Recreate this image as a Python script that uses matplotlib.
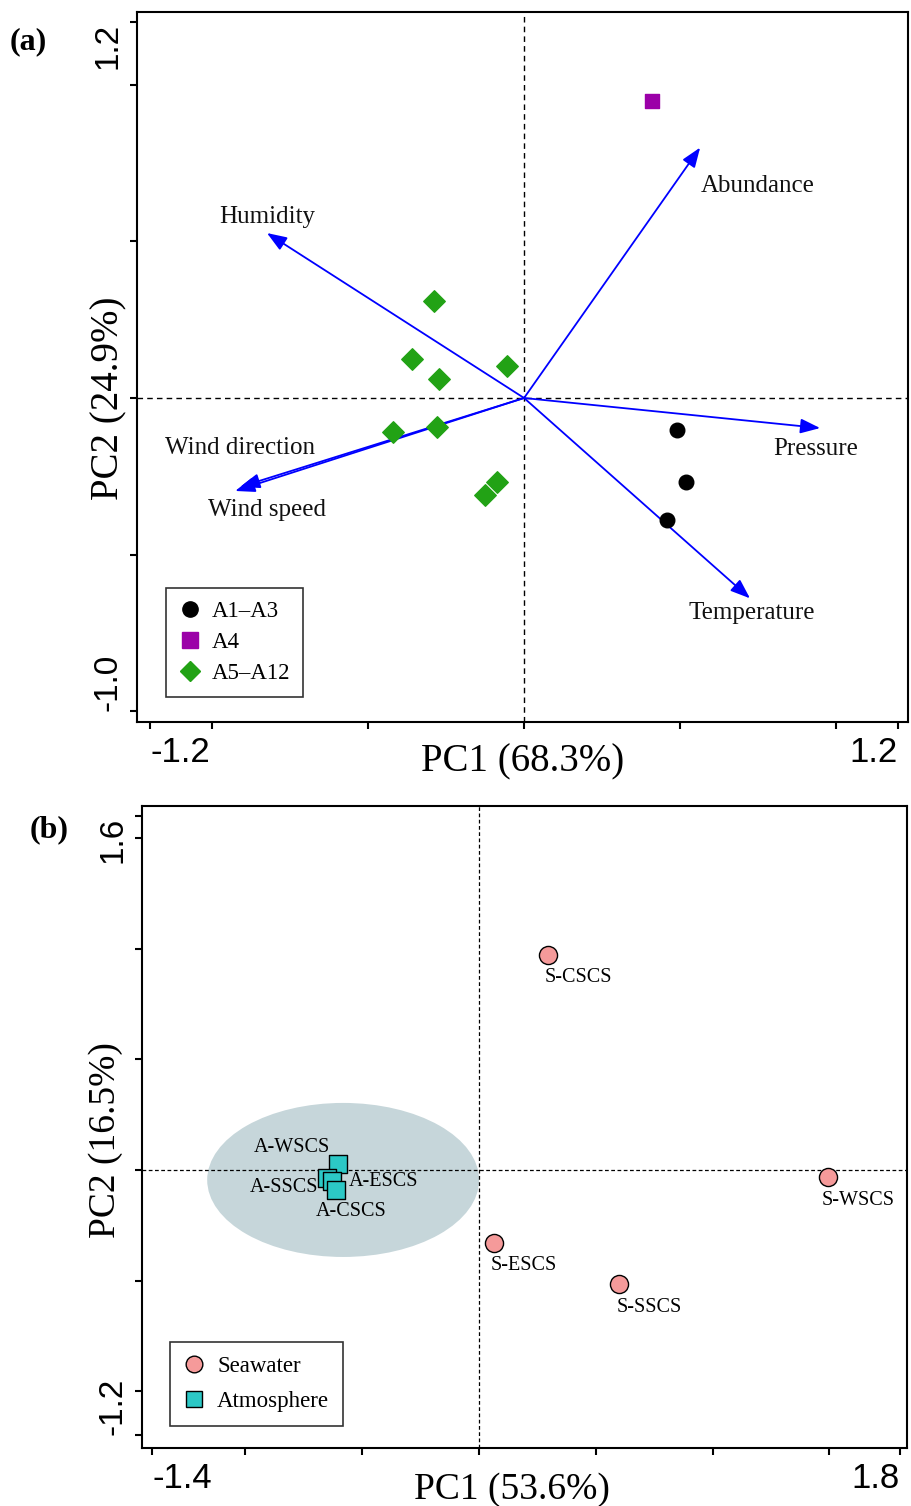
import matplotlib
matplotlib.use("Agg")
import matplotlib.pyplot as plt
from matplotlib.patches import Ellipse
from matplotlib.lines import Line2D

SANS = "Liberation Sans"
SERIF = "Liberation Serif"

# ---------------- Panel (a) data ----------------
a_vars = ["Abundance", "Humidity", "Pressure", "Temperature", "Wind direction", "Wind speed"]
a_vec_x = [0.565, -0.825, 0.950, 0.725, -0.911, -0.927]
a_vec_y = [0.800, 0.527, -0.096, -0.640, -0.284, -0.297]
a_lab_x = [0.750, -0.825, 0.935, 0.730, -0.910, -0.825]
a_lab_y = [0.678, 0.578, -0.163, -0.687, -0.160, -0.358]

a_grp1_x = [0.491, 0.520, 0.459]          # A1–A3
a_grp1_y = [-0.102, -0.268, -0.390]
a_grp2_x = [0.411]                         # A4
a_grp2_y = [0.949]
a_grp3_x = [-0.289, -0.359, -0.273, -0.055, -0.420, -0.279, -0.087, -0.125]   # A5–A12
a_grp3_y = [0.310, 0.125, 0.061, 0.102, -0.109, -0.093, -0.268, -0.310]
a_legend = ["A1\u2013A3", "A4", "A5\u2013A12"]

# ---------------- Panel (b) data ----------------
b_sea_names = ["S-CSCS", "S-WSCS", "S-ESCS", "S-SSCS"]
b_sea_x = [0.295, 1.494, 0.064, 0.599]
b_sea_y = [0.973, -0.032, -0.330, -0.516]

b_atm_names = ["A-WSCS", "A-SSCS", "A-ESCS", "A-CSCS"]
b_atm_x = [-0.604, -0.651, -0.629, -0.612]
b_atm_y = [0.027, -0.036, -0.050, -0.090]
b_atm_lab_x = [-0.803, -0.833, -0.409, -0.547]
b_atm_lab_y = [0.104, -0.077, -0.054, -0.186]
b_legend = ["Seawater", "Atmosphere"]

fig = plt.figure(figsize=(9.11, 15.06), dpi=100)


def style_axes(ax, xt, yt, xlabels, ylabels):
    for s in ax.spines.values():
        s.set_linewidth(1.5)
        s.set_color("black")
    ax.set_xticks(xt)
    ax.set_yticks(yt)
    ax.set_xticklabels(xlabels, fontfamily=SANS, fontsize=25)
    ax.set_yticklabels(ylabels, fontfamily=SANS, fontsize=24, rotation=90)
    ax.tick_params(direction="out", length=5, width=1.5, pad=5)
    xl = ax.get_xticklabels()
    xl[0].set_ha("left")
    xl[-1].set_ha("right")
    yl = ax.get_yticklabels()
    yl[0].set_va("bottom")
    yl[-1].set_va("top")


# ================= Panel (a) =================
ax1 = fig.add_axes([0.1504, 0.5206, 0.8463, 0.4714])
ax1.set_xlim(-1.242, 1.232)
ax1.set_ylim(-1.035, 1.233)
ax1.axhline(0, color="black", lw=1.0, ls=(0, (4, 3)), zorder=1)
ax1.axvline(0, color="black", lw=1.0, ls=(0, (4, 3)), zorder=1)

for vx, vy, lx, ly, name in zip(a_vec_x, a_vec_y, a_lab_x, a_lab_y, a_vars):
    ax1.annotate("", xy=(vx, vy), xytext=(0, 0),
                 arrowprops=dict(arrowstyle="-|>,head_length=1.2,head_width=0.45",
                                 color="#0000ff", lw=1.3, shrinkA=0, shrinkB=0),
                 zorder=2)
    ax1.text(lx, ly, name, fontfamily=SERIF, fontsize=18, ha="center", va="center",
             color="#111111", zorder=4)

ax1.scatter(a_grp1_x, a_grp1_y, s=110, marker="o", color="black", zorder=3, label=a_legend[0])
ax1.scatter(a_grp2_x, a_grp2_y, s=110, marker="s", color="#9b00a8", zorder=3, label=a_legend[1])
ax1.scatter(a_grp3_x, a_grp3_y, s=120, marker="D", color="#22a215", zorder=3, label=a_legend[2])

style_axes(ax1, [-1.2, -1.0, -0.5, 0, 0.5, 1.0, 1.2],
           [-1.0, -0.5, 0, 0.5, 1.0, 1.2],
           ["-1.2", "", "", "", "", "", "1.2"],
           ["-1.0", "", "", "", "", "1.2"])
ax1.set_xlabel("PC1 (68.3%)", fontfamily=SERIF, fontsize=28, va="center")
ax1.set_ylabel("PC2 (24.9%)", fontfamily=SERIF, fontsize=28, va="center")
ax1.xaxis.set_label_coords(0.5006, -0.0563)
ax1.yaxis.set_label_coords(-0.037, 0.456)

h1 = [Line2D([], [], marker="o", ls="", color="black", ms=11),
      Line2D([], [], marker="s", ls="", color="#9b00a8", ms=11),
      Line2D([], [], marker="D", ls="", color="#22a215", ms=10)]
leg1 = ax1.legend(h1, a_legend, loc="lower left", bbox_to_anchor=(0.0376, 0.0352),
                  borderaxespad=0,
                  prop={"family": SERIF, "size": 16.5}, frameon=True, fancybox=False,
                  edgecolor="black", handlelength=0.9, handletextpad=0.5,
                  labelspacing=0.42, borderpad=0.58)
leg1.get_frame().set_linewidth(1.2)
fig.text(0.011, 0.972, "(a)", fontfamily=SERIF, fontsize=23, fontweight="bold",
         ha="left", va="center")

# ================= Panel (b) =================
ax2 = fig.add_axes([0.1559, 0.0385, 0.8397, 0.4263])
ax2.set_xlim(-1.443, 1.832)
ax2.set_ylim(-1.258, 1.647)

ax2.add_patch(Ellipse((-0.582, -0.045), 1.164, 0.697, facecolor="#c6d6da",
                      edgecolor="none", zorder=0))
ax2.axhline(0, color="black", lw=0.9, ls=(0, (3, 2)), zorder=1)
ax2.axvline(0, color="black", lw=0.9, ls=(0, (3, 2)), zorder=1)

ax2.scatter(b_sea_x, b_sea_y, s=170, marker="o", facecolor="#f59a9a",
            edgecolor="black", linewidth=1.0, zorder=3, label=b_legend[0])
ax2.scatter(b_atm_x, b_atm_y, s=150, marker="s", facecolor="#2cc8c6",
            edgecolor="black", linewidth=1.0, zorder=3, label=b_legend[1])

for x, y, name in zip(b_sea_x, b_sea_y, b_sea_names):
    ax2.annotate(name, (x, y), xytext=(30, -23), textcoords="offset pixels",
                 fontfamily=SERIF, fontsize=14.5, ha="center", va="center", zorder=4)
for lx, ly, name in zip(b_atm_lab_x, b_atm_lab_y, b_atm_names):
    ax2.text(lx, ly, name, fontfamily=SERIF, fontsize=14.5, ha="center", va="center", zorder=4)

style_axes(ax2, [-1.4, -1.0, -0.5, 0, 0.5, 1.0, 1.5, 1.8],
           [-1.2, -1.0, -0.5, 0, 0.5, 1.0, 1.5, 1.6],
           ["-1.4", "", "", "", "", "", "", "1.8"],
           ["-1.2", "", "", "", "", "", "", "1.6"])
ax2.set_xlabel("PC1 (53.6%)", fontfamily=SERIF, fontsize=27, va="center")
ax2.set_ylabel("PC2 (16.5%)", fontfamily=SERIF, fontsize=27, va="center")
ax2.xaxis.set_label_coords(0.4837, -0.0655)
ax2.yaxis.set_label_coords(-0.048, 0.48)

h2 = [Line2D([], [], marker="o", ls="", markerfacecolor="#f59a9a",
             markeredgecolor="black", ms=12),
      Line2D([], [], marker="s", ls="", markerfacecolor="#2cc8c6",
             markeredgecolor="black", ms=11)]
leg2 = ax2.legend(h2, b_legend, loc="lower left", bbox_to_anchor=(0.0366, 0.0343),
                  borderaxespad=0,
                  prop={"family": SERIF, "size": 16.5}, frameon=True, fancybox=False,
                  edgecolor="black", handlelength=0.9, handletextpad=0.55,
                  labelspacing=0.62, borderpad=0.6)
leg2.get_frame().set_linewidth(1.2)
fig.text(0.033, 0.449, "(b)", fontfamily=SERIF, fontsize=23, fontweight="bold",
         ha="left", va="center")

fig.savefig("out.png", dpi=100)
